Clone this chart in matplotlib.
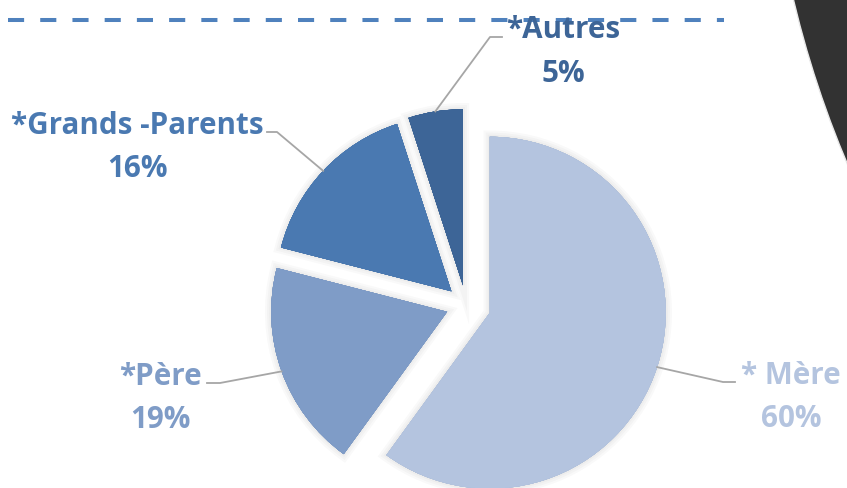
import matplotlib
matplotlib.use("Agg")
import numpy as np
import matplotlib.pyplot as plt
from matplotlib import patheffects as pe
from matplotlib.patches import Circle

# who looks after the child, in percent
labels = ["* Mère", "*Père", "*Grands -Parents", "*Autres"]
shares = [60, 19, 16, 5]
colors = ["#B4C4DF", "#7F9CC7", "#4A79B1", "#3D6597"]

W, H = 847, 489


def sy(y):
    # pixel row counted from the top -> data y
    return H - y


fig = plt.figure(figsize=(W / 100, H / 100), dpi=100)
ax = fig.add_axes([0, 0, 1, 1])

# big dark disc peeking in on the right edge
ax.add_patch(Circle((1790, sy(-235)), 1024, facecolor="#323232",
                    edgecolor="#e8e8e8", linewidth=1.0, zorder=0))

# dashed rule across the top
ax.plot([8, 724], [sy(21), sy(21)], color="#4F81BD", lw=2.9,
        dashes=(4, 4), solid_capstyle="butt", dash_capstyle="butt", zorder=1)

cx, cy, radius = 466, sy(306), 176
glow = [pe.withStroke(linewidth=w, foreground=(0, 0, 0, 0.025)) for w in (9, 6, 3)]
wedges, _ = ax.pie(shares, colors=colors, startangle=90, counterclock=False,
                   explode=[25, 20, 20, 20], radius=radius, center=(cx, cy),
                   wedgeprops=dict(linewidth=0, path_effects=glow + [pe.Normal()]))
for w in wedges:
    w.set_zorder(2)

# label placement: elbow, end of leader, text centre x, baselines
layout = [
    ((723, 383), (735, 383), 791, 384, 427),
    ((220, 384), (207, 384), 160, 385, 428),
    ((277, 133), (267, 133), 137, 134, 177),
    ((490, 38), (502, 38), 563, 38, 82),
]

font = dict(family=["Open Sans", "DejaVu Sans"], weight="bold", size=21.3)
for w, lab, val, col, (elbow, end, tx, b1, b2) in zip(wedges, labels, shares, colors, layout):
    mid = np.deg2rad((w.theta1 + w.theta2) / 2)
    x0 = w.center[0] + w.r * np.cos(mid)
    y0 = w.center[1] + w.r * np.sin(mid)
    ax.plot([x0, elbow[0], end[0]], [y0, sy(elbow[1]), sy(end[1])],
            color="#A6A6A6", lw=1.3, zorder=3)
    ax.text(tx, sy(b1), lab, color=col, ha="center", va="baseline", zorder=4, **font)
    ax.text(tx, sy(b2), f"{val}%", color=col, ha="center", va="baseline", zorder=4, **font)

ax.set_xlim(0, W)
ax.set_ylim(0, H)
ax.set_aspect("equal")
ax.axis("off")

fig.savefig("out.png", dpi=100)
